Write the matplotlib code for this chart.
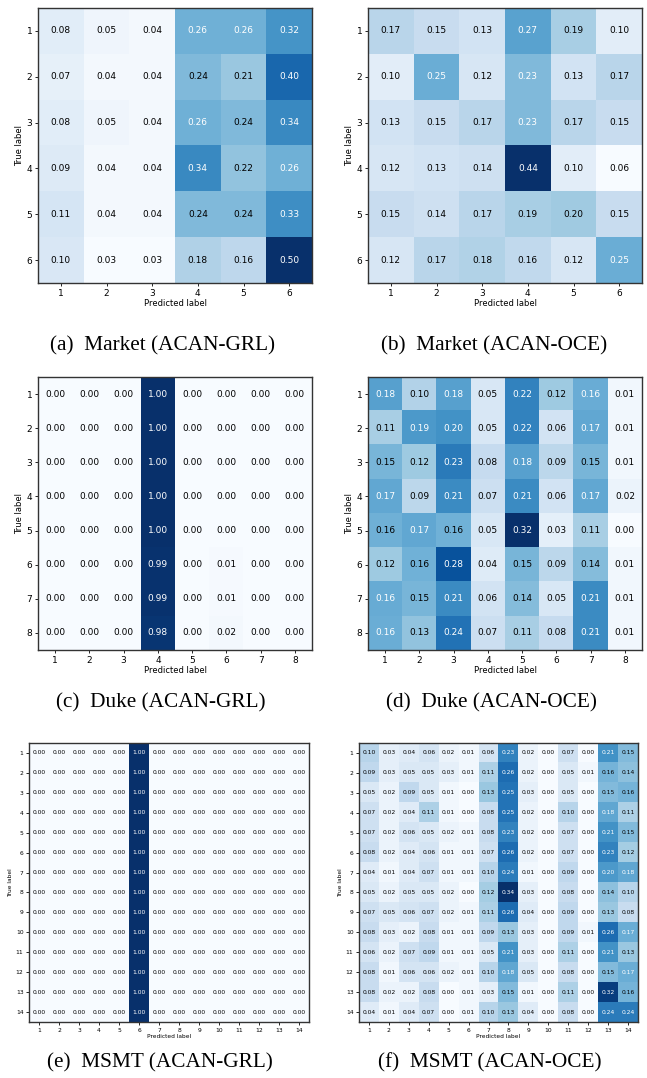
import numpy as np
import matplotlib
matplotlib.use("Agg")
import matplotlib.pyplot as plt

# confusion matrices (rows = true label, cols = predicted label)
market_grl = [
    [0.08, 0.05, 0.04, 0.26, 0.26, 0.32],
    [0.07, 0.04, 0.04, 0.24, 0.21, 0.40],
    [0.08, 0.05, 0.04, 0.26, 0.24, 0.34],
    [0.09, 0.04, 0.04, 0.34, 0.22, 0.26],
    [0.11, 0.04, 0.04, 0.24, 0.24, 0.33],
    [0.10, 0.03, 0.03, 0.18, 0.16, 0.50],
]
market_oce = [
    [0.17, 0.15, 0.13, 0.27, 0.19, 0.10],
    [0.10, 0.25, 0.12, 0.23, 0.13, 0.17],
    [0.13, 0.15, 0.17, 0.23, 0.17, 0.15],
    [0.12, 0.13, 0.14, 0.44, 0.10, 0.06],
    [0.15, 0.14, 0.17, 0.19, 0.20, 0.15],
    [0.12, 0.17, 0.18, 0.16, 0.12, 0.25],
]
duke_grl = [
    [0.00, 0.00, 0.00, 1.00, 0.00, 0.00, 0.00, 0.00],
    [0.00, 0.00, 0.00, 1.00, 0.00, 0.00, 0.00, 0.00],
    [0.00, 0.00, 0.00, 1.00, 0.00, 0.00, 0.00, 0.00],
    [0.00, 0.00, 0.00, 1.00, 0.00, 0.00, 0.00, 0.00],
    [0.00, 0.00, 0.00, 1.00, 0.00, 0.00, 0.00, 0.00],
    [0.00, 0.00, 0.00, 0.99, 0.00, 0.01, 0.00, 0.00],
    [0.00, 0.00, 0.00, 0.99, 0.00, 0.01, 0.00, 0.00],
    [0.00, 0.00, 0.00, 0.98, 0.00, 0.02, 0.00, 0.00],
]
duke_oce = [
    [0.18, 0.10, 0.18, 0.05, 0.22, 0.12, 0.163, 0.01],
    [0.11, 0.19, 0.20, 0.05, 0.22, 0.06, 0.17, 0.01],
    [0.15, 0.12, 0.23, 0.08, 0.18, 0.09, 0.15, 0.01],
    [0.17, 0.09, 0.21, 0.07, 0.21, 0.06, 0.17, 0.02],
    [0.158, 0.17, 0.157, 0.05, 0.322, 0.03, 0.11, 0.00],
    [0.12, 0.156, 0.28, 0.04, 0.15, 0.09, 0.14, 0.01],
    [0.164, 0.15, 0.21, 0.06, 0.14, 0.05, 0.21, 0.01],
    [0.162, 0.13, 0.24, 0.07, 0.11, 0.08, 0.21, 0.01],
]
msmt_grl = [
    [0.00, 0.00, 0.00, 0.00, 0.00, 1.00, 0.00, 0.00, 0.00, 0.00, 0.00, 0.00, 0.00, 0.00],
    [0.00, 0.00, 0.00, 0.00, 0.00, 1.00, 0.00, 0.00, 0.00, 0.00, 0.00, 0.00, 0.00, 0.00],
    [0.00, 0.00, 0.00, 0.00, 0.00, 1.00, 0.00, 0.00, 0.00, 0.00, 0.00, 0.00, 0.00, 0.00],
    [0.00, 0.00, 0.00, 0.00, 0.00, 1.00, 0.00, 0.00, 0.00, 0.00, 0.00, 0.00, 0.00, 0.00],
    [0.00, 0.00, 0.00, 0.00, 0.00, 1.00, 0.00, 0.00, 0.00, 0.00, 0.00, 0.00, 0.00, 0.00],
    [0.00, 0.00, 0.00, 0.00, 0.00, 1.00, 0.00, 0.00, 0.00, 0.00, 0.00, 0.00, 0.00, 0.00],
    [0.00, 0.00, 0.00, 0.00, 0.00, 1.00, 0.00, 0.00, 0.00, 0.00, 0.00, 0.00, 0.00, 0.00],
    [0.00, 0.00, 0.00, 0.00, 0.00, 1.00, 0.00, 0.00, 0.00, 0.00, 0.00, 0.00, 0.00, 0.00],
    [0.00, 0.00, 0.00, 0.00, 0.00, 1.00, 0.00, 0.00, 0.00, 0.00, 0.00, 0.00, 0.00, 0.00],
    [0.00, 0.00, 0.00, 0.00, 0.00, 1.00, 0.00, 0.00, 0.00, 0.00, 0.00, 0.00, 0.00, 0.00],
    [0.00, 0.00, 0.00, 0.00, 0.00, 1.00, 0.00, 0.00, 0.00, 0.00, 0.00, 0.00, 0.00, 0.00],
    [0.00, 0.00, 0.00, 0.00, 0.00, 1.00, 0.00, 0.00, 0.00, 0.00, 0.00, 0.00, 0.00, 0.00],
    [0.00, 0.00, 0.00, 0.00, 0.00, 1.00, 0.00, 0.00, 0.00, 0.00, 0.00, 0.00, 0.00, 0.00],
    [0.00, 0.00, 0.00, 0.00, 0.00, 1.00, 0.00, 0.00, 0.00, 0.00, 0.00, 0.00, 0.00, 0.00],
]
msmt_oce = [
    [0.10, 0.03, 0.04, 0.06, 0.02, 0.01, 0.06, 0.23, 0.02, 0.00, 0.07, 0.00, 0.21, 0.15],
    [0.09, 0.03, 0.05, 0.05, 0.03, 0.01, 0.11, 0.26, 0.02, 0.00, 0.05, 0.01, 0.16, 0.14],
    [0.05, 0.02, 0.09, 0.05, 0.01, 0.00, 0.13, 0.25, 0.03, 0.00, 0.05, 0.00, 0.15, 0.16],
    [0.07, 0.02, 0.04, 0.11, 0.01, 0.00, 0.08, 0.25, 0.02, 0.00, 0.10, 0.00, 0.18, 0.11],
    [0.07, 0.02, 0.06, 0.05, 0.02, 0.01, 0.08, 0.23, 0.02, 0.00, 0.07, 0.00, 0.21, 0.15],
    [0.08, 0.02, 0.04, 0.06, 0.01, 0.01, 0.07, 0.26, 0.02, 0.00, 0.07, 0.00, 0.23, 0.12],
    [0.04, 0.01, 0.04, 0.07, 0.01, 0.01, 0.10, 0.24, 0.01, 0.00, 0.09, 0.00, 0.20, 0.18],
    [0.05, 0.02, 0.05, 0.05, 0.02, 0.00, 0.12, 0.338, 0.03, 0.00, 0.08, 0.00, 0.14, 0.10],
    [0.07, 0.05, 0.06, 0.07, 0.02, 0.01, 0.11, 0.26, 0.04, 0.00, 0.09, 0.00, 0.13, 0.08],
    [0.08, 0.03, 0.02, 0.08, 0.01, 0.01, 0.09, 0.13, 0.03, 0.00, 0.09, 0.01, 0.26, 0.17],
    [0.06, 0.02, 0.07, 0.09, 0.01, 0.01, 0.05, 0.21, 0.03, 0.00, 0.11, 0.00, 0.21, 0.13],
    [0.08, 0.01, 0.06, 0.06, 0.02, 0.01, 0.10, 0.18, 0.05, 0.00, 0.08, 0.00, 0.15, 0.17],
    [0.08, 0.02, 0.02, 0.08, 0.00, 0.01, 0.03, 0.15, 0.01, 0.00, 0.11, 0.00, 0.32, 0.16],
    [0.04, 0.01, 0.04, 0.07, 0.00, 0.01, 0.10, 0.13, 0.04, 0.00, 0.08, 0.00, 0.24, 0.24],
]
captions = ["(a)  Market (ACAN-GRL)", "(b)  Market (ACAN-OCE)",
            "(c)  Duke (ACAN-GRL)", "(d)  Duke (ACAN-OCE)",
            "(e)  MSMT (ACAN-GRL)", "(f)  MSMT (ACAN-OCE)"]

W, H = 647, 1078
fig = plt.figure(figsize=(W / 100, H / 100), dpi=100)


def px_axes(x0, y0, x1, y1):
    return fig.add_axes([x0 / W, 1 - y1 / H, (x1 - x0) / W, (y1 - y0) / H])


def plot_cm(ax, cm, fs_num, fs_tick, fs_lab):
    cm = np.array(cm)
    n = cm.shape[0]
    ax.imshow(cm, interpolation="nearest", cmap=plt.cm.Blues, aspect="auto")
    labels = [str(i + 1) for i in range(n)]
    ax.set_xticks(np.arange(n))
    ax.set_yticks(np.arange(n))
    ax.set_xticklabels(labels)
    ax.set_yticklabels(labels)
    ax.tick_params(labelsize=fs_tick, length=2, width=0.6, pad=2)
    thresh = cm.max() / 2.
    for i in range(n):
        for j in range(n):
            ax.text(j, i, format(cm[i, j], ".2f"), ha="center", va="center",
                    fontsize=fs_num,
                    color="white" if cm[i, j] > thresh else "black")
    ax.set_ylabel("True label", fontsize=fs_lab, labelpad=2)
    ax.set_xlabel("Predicted label", fontsize=fs_lab, labelpad=1)
    for s in ax.spines.values():
        s.set_color("#333333")
        s.set_linewidth(1.0)


# (a) / (b)
ax = px_axes(38, 8, 312, 283)
plot_cm(ax, market_grl, 6.5, 6.5, 6)
ax = px_axes(368, 8, 642, 283)
plot_cm(ax, market_oce, 6.5, 6.5, 6)

# (c) / (d)
ax = px_axes(38, 377, 312, 650)
plot_cm(ax, duke_grl, 6.5, 6.5, 6)
ax = px_axes(368, 377, 642, 650)
plot_cm(ax, duke_oce, 6.5, 6.5, 6)

# (e) / (f)
ax = px_axes(29, 743, 309, 1022)
plot_cm(ax, msmt_grl, 4.3, 4.3, 4.2)
ax = px_axes(359, 743, 638, 1022)
plot_cm(ax, msmt_oce, 4.3, 4.3, 4.2)

cap_pos = [(163, 346), (494, 346), (161, 703), (491, 703), (160, 1063), (490, 1063)]
for (cx, cy), txt in zip(cap_pos, captions):
    fig.text(cx / W, 1 - cy / H, txt, ha="center", va="center",
             fontsize=15.3, family="Liberation Serif")

fig.savefig("out.png", dpi=100)
